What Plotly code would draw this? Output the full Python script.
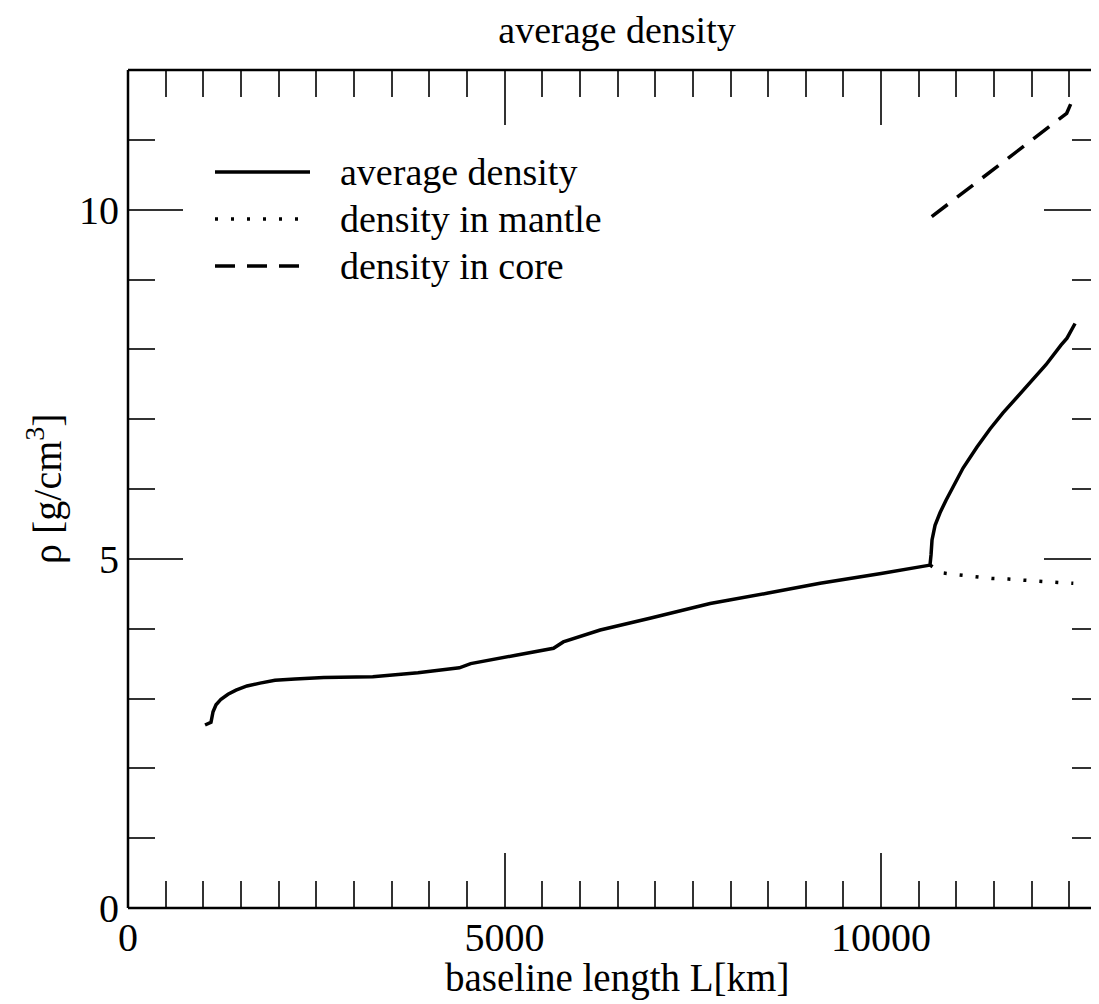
import plotly.graph_objects as go

# ---- data ----
avg_x = [1023, 1102, 1129, 1169, 1235, 1328, 1434, 1580, 1753, 1952, 2218, 2600, 3250,
         3850, 4400, 4550, 5150, 5650, 5780, 6270, 6930, 7730, 8500, 9190, 10000,
         10649, 10663, 10676, 10716, 10782, 10862, 10955, 11088, 11273, 11446, 11618,
         11804, 11977, 12189, 12388, 12468, 12575]
avg_y = [2.62, 2.66, 2.81, 2.91, 2.99, 3.06, 3.12, 3.18, 3.22, 3.26, 3.28, 3.30, 3.31,
         3.37, 3.44, 3.50, 3.62, 3.72, 3.81, 3.98, 4.15, 4.36, 4.51, 4.65, 4.79,
         4.91, 5.06, 5.27, 5.48, 5.66, 5.84, 6.03, 6.30, 6.60, 6.86, 7.09,
         7.32, 7.52, 7.78, 8.06, 8.16, 8.37]

mantle_x = [10650, 10804, 11026, 11247, 11468, 11689, 11910, 12132, 12353, 12552]
mantle_y = [4.91, 4.80, 4.77, 4.74, 4.72, 4.71, 4.69, 4.67, 4.66, 4.65]

core_x = [10672, 12464, 12552]
core_y = [9.90, 11.38, 11.60]

series_names = ["average density", "density in mantle", "density in core"]

x_ticks = [0, 5000, 10000]
y_ticks = [0, 5, 10]

FONT = "Liberation Serif"
OFF = 8                      # page body margin
W, H = 1099 - OFF, 1004 - OFF
ML, MR, MT, MB = 120, 0, 62, 96

fig = go.Figure()
fig.add_trace(go.Scatter(x=avg_x, y=avg_y, mode="lines", name=series_names[0],
                         line=dict(color="black", width=3.5), showlegend=False))
fig.add_trace(go.Scatter(x=mantle_x, y=mantle_y, mode="lines", name=series_names[1],
                         line=dict(color="black", width=3.5, dash="3px,13px"), showlegend=False))
fig.add_trace(go.Scatter(x=core_x, y=core_y, mode="lines", name=series_names[2],
                         line=dict(color="black", width=3.5, dash="20px,12px"), showlegend=False))

pw = W - ML - MR
ph = H - MT - MB


def px(xp):  # page pixel -> paper
    return (xp - OFF - ML) / pw


def py(yp):
    return (H - MB - (yp - OFF)) / ph


# manual legend (long line samples like the reference)
leg_rows = [172, 219, 266]
dashes = ["solid", "3px,13px", "20px,12px"]
shapes = []
annotations = []
for name, yy, d in zip(series_names, leg_rows, dashes):
    shapes.append(dict(type="line", xref="paper", yref="paper",
                       x0=px(215), x1=px(310), y0=py(yy), y1=py(yy),
                       line=dict(color="black", width=3.5, dash=d)))
    annotations.append(dict(xref="paper", yref="paper", x=px(338), y=py(yy),
                            xanchor="left", yanchor="middle", showarrow=False,
                            text=name, font=dict(family=FONT, size=38, color="black")))

# frame lines (left, bottom, top) - right side is clipped in the reference
for (x0, y0, x1, y1) in [(0, 0, 0, 1), (0, 0, 1, 0), (0, 1, 1, 1)]:
    shapes.append(dict(type="line", xref="paper", yref="paper", x0=x0, y0=y0, x1=x1, y1=y1,
                       line=dict(color="black", width=2.5)))

# axis titles
annotations.append(dict(xref="paper", yref="paper", x=px(617), y=py(978),
                        xanchor="center", yanchor="middle", showarrow=False,
                        text="baseline length L[km]",
                        font=dict(family=FONT, size=39, color="black")))
annotations.append(dict(xref="paper", yref="paper", x=px(44), y=py(489),
                        xanchor="center", yanchor="middle", showarrow=False, textangle=-90,
                        text="ρ [g/cm<sup>3</sup>]",
                        font=dict(family=FONT, size=40, color="black")))

fig.update_layout(
    width=W, height=H,
    margin=dict(l=ML, r=MR, t=MT, b=MB, pad=0, autoexpand=False),
    paper_bgcolor="white", plot_bgcolor="white",
    title=dict(text="average density", x=(617 - OFF) / W, xanchor="center",
               y=1 - (30 - OFF) / H, yanchor="middle", automargin=False,
               font=dict(family=FONT, size=38, color="black")),
    shapes=shapes, annotations=annotations,
    font=dict(family=FONT, color="black"),
)

fig.update_xaxes(
    range=[0, 12893], showgrid=False, zeroline=False, showline=False, automargin=False,
    tickmode="array", tickvals=x_ticks, ticktext=[str(v) for v in x_ticks],
    ticks="inside", ticklen=55, tickwidth=2, tickcolor="#333",
    mirror="allticks", ticklabelstandoff=2,
    minor=dict(dtick=500, tick0=0, ticks="inside", ticklen=27, tickwidth=2, tickcolor="#333"),
    tickfont=dict(family=FONT, size=40, color="black"),
)
fig.update_yaxes(
    range=[0, 12], showgrid=False, zeroline=False, showline=False, automargin=False,
    tickmode="array", tickvals=y_ticks, ticktext=[str(v) for v in y_ticks],
    ticks="inside", ticklen=55, tickwidth=2, tickcolor="#333",
    mirror="allticks", ticklabelstandoff=8,
    minor=dict(dtick=1, tick0=0, ticks="inside", ticklen=27, tickwidth=2, tickcolor="#333"),
    tickfont=dict(family=FONT, size=40, color="black"),
)

fig.write_html("out.html")
